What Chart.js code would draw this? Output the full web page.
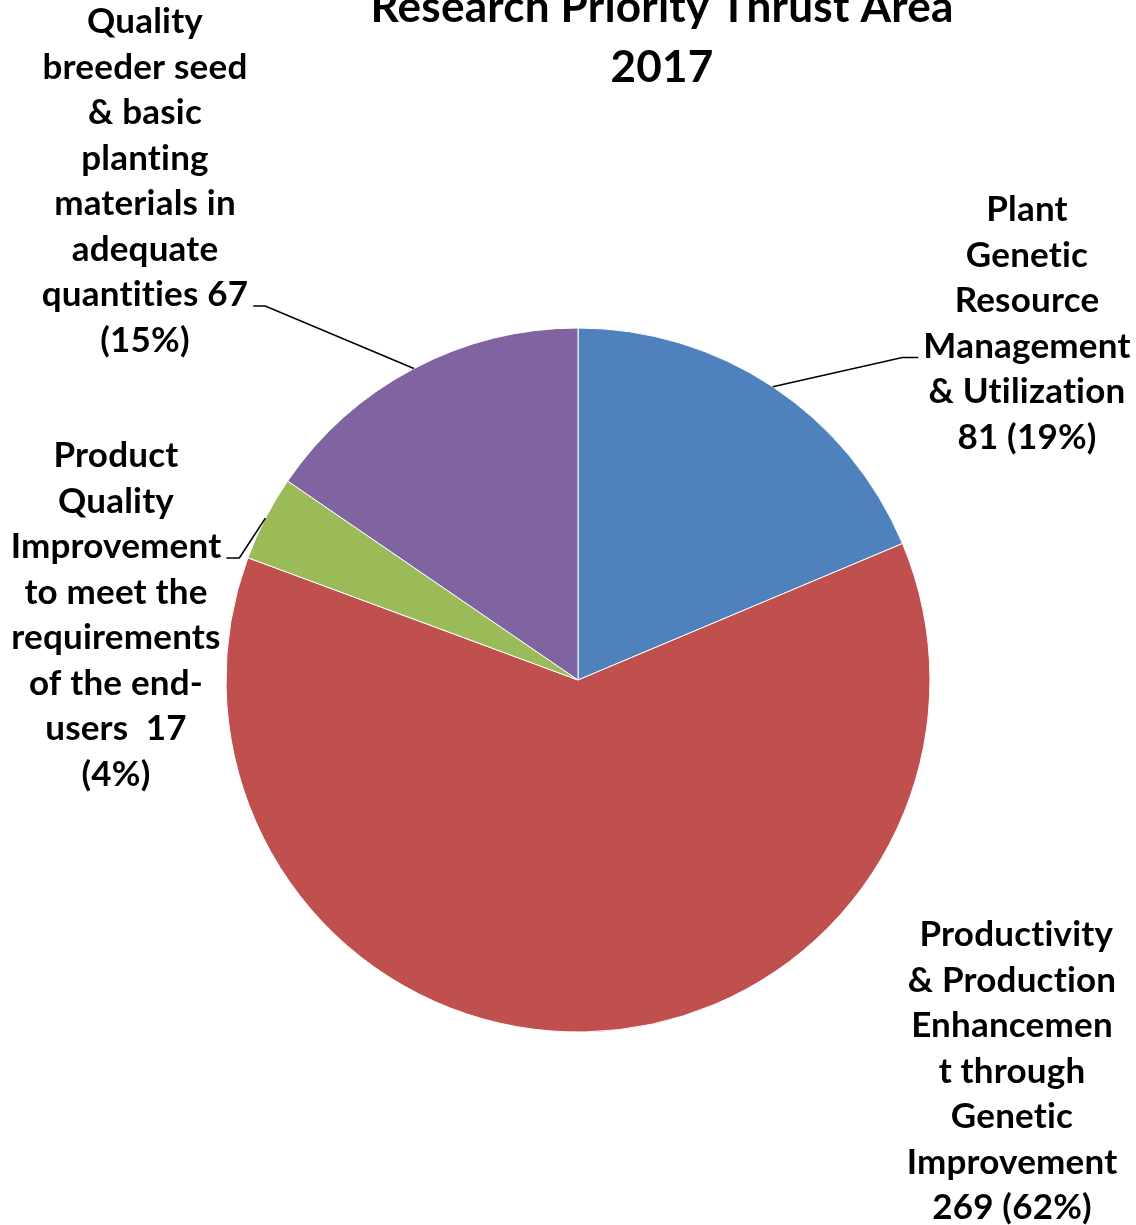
<!DOCTYPE html>
<html>
<head>
<meta charset="utf-8">
<script src="https://cdn.jsdelivr.net/npm/chart.js@4.4.1/dist/chart.umd.min.js"></script>
<style>
  html, body { margin: 0; padding: 0; background: #fff; }
  #wrap { width: 1136px; height: 1225px; }
</style>
</head>
<body>
<div id="wrap"><canvas id="thrustChart" width="1136" height="1225"></canvas></div>
<script>
const titleLines = ['Research Priority Thrust Area', '2017'];

const categories = [
  'Plant Genetic Resource Management & Utilization',
  'Productivity & Production Enhancement through Genetic Improvement',
  'Product Quality Improvement to meet the requirements of the end-users',
  'Quality breeder seed & basic planting materials in adequate quantities'
];
const projectCounts = [81, 269, 17, 67];
const sliceColors = ['#4F81BD', '#C0504D', '#9BBB59', '#8064A2'];

// wrapped lines as they appear in the label boxes, {v} = value, {p} = percent
const labelLines = [
  ['Plant', 'Genetic', 'Resource', 'Management', '& Utilization', '{v} ({p})'],
  [' Productivity', '& Production', 'Enhancemen', 't through', 'Genetic', 'Improvement', '{v} ({p})'],
  ['Product', 'Quality', 'Improvement', 'to meet the', 'requirements', 'of the end-', 'users  {v}', '({p})'],
  ['Quality', 'breeder seed', '& basic', 'planting', 'materials in', 'adequate', 'quantities {v}', '({p})']
];

const total = projectCounts.reduce((a, b) => a + b, 0);

// label box placement relative to pie centre, and which line gets the leader
const calloutLayout = [
  { dx: 449, dy: -470, side: 'left', line: 3, elbow: 16 },
  { dx: 434, dy: 255, side: null },
  { dx: -462, dy: -224, side: 'right', line: 2, elbow: 13 },
  { dx: -433, dy: -658, side: 'right', line: 6, elbow: 12 }
];
const lineGap = 45.5;
const spacing = '0.2px'; // non-zero spacing also switches off the ti/fi ligatures

function fitFont(text, width, family) {
  const c = document.createElement('canvas').getContext('2d');
  c.font = 'bold 100px ' + family;
  c.letterSpacing = spacing;
  return 100 * width / c.measureText(text).width;
}
const fontFamily = 'Lato, "Noto Sans", sans-serif';
const labelSize = fitFont('Management', 206, fontFamily);
const titleSize = fitFont(titleLines[0], 580, fontFamily);

const calloutPlugin = {
  id: 'callouts',
  afterDatasetsDraw(chart) {
    const ctx = chart.ctx;
    const arcs = chart.getDatasetMeta(0).data;
    ctx.save();
    ctx.letterSpacing = spacing;

    // title
    ctx.fillStyle = '#000';
    ctx.textAlign = 'center';
    ctx.textBaseline = 'alphabetic';
    ctx.font = 'bold ' + titleSize + 'px ' + fontFamily;
    ctx.fillText(titleLines[0], 662, 22);
    ctx.fillText(titleLines[1], 662, 82);

    ctx.font = 'bold ' + labelSize + 'px ' + fontFamily;
    ctx.textBaseline = 'middle';
    arcs.forEach((arc, i) => {
      const lay = calloutLayout[i];
      const pct = Math.round(projectCounts[i] / total * 100) + '%';
      const lines = labelLines[i].map(s => s.replace('{v}', projectCounts[i]).replace('{p}', pct));
      const lx = arc.x + lay.dx;
      const ly = arc.y + lay.dy;
      lines.forEach((s, k) => ctx.fillText(s, lx, ly + k * lineGap));

      if (lay.side) {
        const mid = (arc.startAngle + arc.endAngle) / 2;
        const px = arc.x + Math.cos(mid) * arc.outerRadius;
        const py = arc.y + Math.sin(mid) * arc.outerRadius;
        const w = ctx.measureText(lines[lay.line]).width;
        const yy = ly + lay.line * lineGap + 11;
        const sign = lay.side === 'left' ? -1 : 1;
        const edge = lx + sign * (w / 2 + 5);
        const elbowX = edge + sign * lay.elbow;
        ctx.beginPath();
        ctx.moveTo(px, py);
        ctx.lineTo(elbowX, yy);
        ctx.lineTo(edge, yy);
        ctx.strokeStyle = '#000';
        ctx.lineWidth = 1.6;
        ctx.stroke();
      }
    });
    ctx.restore();
  }
};

new Chart(document.getElementById('thrustChart'), {
  type: 'pie',
  data: {
    labels: categories,
    datasets: [{
      data: projectCounts,
      backgroundColor: sliceColors,
      borderColor: '#ffffff',
      borderWidth: 1
    }]
  },
  options: {
    responsive: false,
    animation: false,
    radius: 352,
    layout: {
      padding: { left: 226, right: 206, top: 328, bottom: 193 }
    },
    plugins: {
      legend: { display: false },
      title: { display: false },
      tooltip: { enabled: false }
    }
  },
  plugins: [calloutPlugin]
});
</script>
</body>
</html>
